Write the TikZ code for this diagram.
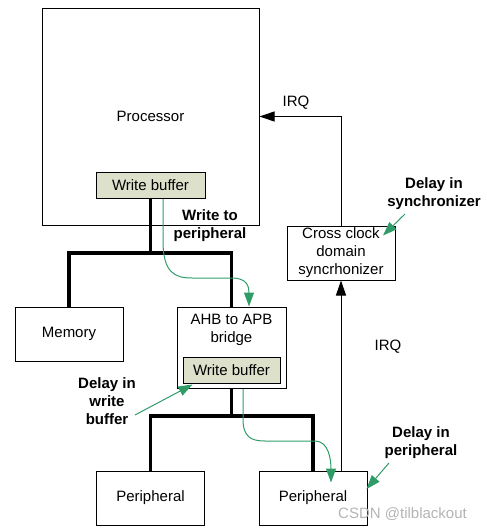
\documentclass[tikz,border=0pt]{standalone}
\usepackage{fontspec}
\setmainfont{Liberation Sans}
\usetikzlibrary{positioning,arrows.meta,calc}
\definecolor{bufbg}{HTML}{DDE1CB}
\definecolor{delay}{HTML}{2F9C68}
\definecolor{wmark}{HTML}{B4B4B4}

\begin{document}
\begin{tikzpicture}[
  x=1pt,y=-1pt,
  font=\fontsize{15}{18}\selectfont,
  box/.style={draw,line width=1pt,minimum width=108pt,minimum height=54pt,inner sep=0pt,align=center},
  buf/.style={draw,line width=1pt,fill=bufbg,minimum width=109pt,minimum height=26.5pt,inner sep=0pt},
  bus/.style={line width=3.5pt},
  irq/.style={-{Triangle[length=15pt,width=10pt]},line width=1pt},
  flow/.style={-{Triangle[length=14pt,width=10pt]},draw=delay,line width=1pt},
  note/.style={font=\fontsize{15}{18}\selectfont\bfseries,align=center,inner sep=1pt}
]
\useasboundingbox (0,0) rectangle (487,530);

\node[box,minimum width=217pt,minimum height=217pt] (proc) at (150.5,116.5) {Processor};
\node[buf,above=26.5pt of proc.south] (wbuf) {Write buffer};
\node[box,below=81pt of proc.south,xshift=-81.5pt] (mem) {Memory};
\node[box,minimum width=109pt,minimum height=81.5pt,below=81pt of proc.south,xshift=81pt] (bridge) {};
\node[align=center,inner sep=0pt,below=7.5pt of bridge.north] (bridgetxt) {AHB to APB\\bridge};
\node[buf,minimum width=97pt,minimum height=26pt,above=5.5pt of bridge.south] (bbuf) {Write buffer};
\node[box,below=81.5pt of bridge.south,xshift=-81pt] (perA) {Peripheral};
\node[box,below=81.5pt of bridge.south,xshift=81.5pt] (perB) {Peripheral};
\node[box,below right=0pt and 27pt of proc.south east] (sync) {Cross clock\\domain\\syncrhonizer};

\draw[bus] (wbuf.south) -- ++(0,54) coordinate (ahb);
\draw[bus] (mem.north) |- (ahb) -| (bridge.north);
\draw[bus] (bridge.south) -- ++(0,27) coordinate (apb);
\draw[bus] (perA.north) |- (apb) -| (perB.north);

\draw[irq] (sync.south |- perB.north) -- (sync.south);
\draw[irq] (sync.north) |- (proc.east);

\node (irqa) at (296,103) {IRQ};
\node (irqb) at (388,347) {IRQ};
\node[note] (wrnote) at (210,226) {Write to\\peripheral};
\node[note] (dsync) at (434,193.5) {Delay in\\synchronizer};
\node[note] (dwbuf) at (107,401) {Delay in\\write\\buffer};
\node[note] (dper) at (421,443) {Delay in\\peripheral};

\draw[flow] ($(wbuf.south)+(12.5,0)$) -- ++(0,42) .. controls +(0,32) and +(-17,0) .. ++(29,37) -- ++(40,0) .. controls +(15,0) and +(0,-20) .. ($(bridge.north)+(17.5,0)$);
\draw[flow] ($(bridge.south)+(11.5,0)$) -- ++(0,30) .. controls +(0,18) and +(-14,0) .. ++(22,22) -- ++(50,0) .. controls +(14,0) and +(0,-22) .. ($(perB.north)+(18,12)$);

\coordinate (dsyncfrom) at (405,214);
\coordinate (dwbuffrom) at (135,415);
\coordinate (dperfrom) at (389,463);
\draw[flow] (dsyncfrom) -- ($(sync.north east)+(-12.5,10)$);
\draw[flow] (dwbuffrom) -- ($(bbuf.south west)+(10,1)$);
\draw[flow] (dperfrom) -- ($(perB.east)+(-1,-9)$);

\node[text=wmark] (wm) at (402.5,514) {CSDN @tilblackout};
\end{tikzpicture}
\end{document}
